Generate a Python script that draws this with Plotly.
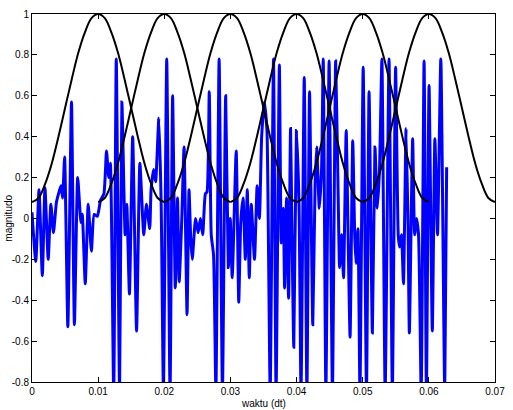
import plotly.graph_objects as go

# Blue signal
sig_t = [0.00000, 0.00057, 0.00106, 0.00156, 0.00196, 0.00245, 0.00285, 0.00324, 0.00370, 0.00418,
         0.00440, 0.00463, 0.00493, 0.00542, 0.00597, 0.00641, 0.00691, 0.00740, 0.00760, 0.00805,
         0.00850, 0.00898, 0.00940, 0.00988, 0.01037, 0.01087, 0.01126, 0.01161, 0.01185, 0.01235,
         0.01274, 0.01324, 0.01359, 0.01408, 0.01433, 0.01473, 0.01522, 0.01581, 0.01631, 0.01690,
         0.01730, 0.01780, 0.01800, 0.01839, 0.01869, 0.01918, 0.01953, 0.01987, 0.02037, 0.02087,
         0.02126, 0.02166, 0.02200, 0.02225, 0.02265, 0.02299, 0.02344, 0.02374, 0.02400, 0.02423,
         0.02473, 0.02512, 0.02547, 0.02581, 0.02621, 0.02646, 0.02680, 0.02710, 0.02745, 0.02780,
         0.02829, 0.02879, 0.02928, 0.02968, 0.02997, 0.03027, 0.03087, 0.03126, 0.03156, 0.03191,
         0.03225, 0.03255, 0.03285, 0.03315, 0.03364, 0.03404, 0.03438, 0.03472, 0.03512, 0.03552,
         0.03571, 0.03601, 0.03651, 0.03690, 0.03740, 0.03769, 0.03799, 0.03819, 0.03849, 0.03879,
         0.03909, 0.03928, 0.03958, 0.03998, 0.04037, 0.04067, 0.04116, 0.04156, 0.04196, 0.04245,
         0.04280, 0.04304, 0.04344, 0.04378, 0.04403, 0.04443, 0.04492, 0.04542, 0.04591, 0.04631,
         0.04650, 0.04680, 0.04710, 0.04750, 0.04779, 0.04809, 0.04849, 0.04879, 0.04898, 0.04928,
         0.04958, 0.05007, 0.05057, 0.05096, 0.05146, 0.05185, 0.05220, 0.05254, 0.05290, 0.05339,
         0.05398, 0.05448, 0.05497, 0.05537, 0.05557, 0.05586, 0.05616, 0.05656, 0.05686, 0.05705,
         0.05755, 0.05785, 0.05814, 0.05844, 0.05884, 0.05928, 0.05963, 0.06003, 0.06052, 0.06091,
         0.06131, 0.06181, 0.06240, 0.06269]
sig_v = [0.03, -0.21, 0.14, -0.28, 0.15, -0.20, 0.07, -0.07, 0.08, 0.14,
         0.16, 0.10, 0.30, -0.53, 0.57, -0.52, 0.20, -0.02, 0.02, -0.32,
         0.07, -0.16, 0.02, 0.01, 0.09, 0.12, 0.33, 0.20, 0.27, -0.85,
         0.78, -0.85, 0.57, -0.08, 0.07, -0.37, 0.40, -0.55, 0.27, -0.08,
         0.07, -0.05, 0.14, 0.24, 0.18, 0.49, 0.07, -0.85, 0.78, -0.85,
         0.60, -0.34, 0.10, -0.31, 0.00, 0.35, -0.47, 0.14, -0.10, -0.20,
         0.00, -0.07, 0.00, -0.08, 0.12, 0.13, 0.62, -0.08, -0.18, -0.85,
         0.78, -0.85, 0.60, -0.24, 0.00, -0.29, 0.33, -0.41, -0.02, 0.10,
         -0.20, 0.14, -0.29, 0.07, -0.20, 0.16, 0.00, 0.40, 0.57, 0.43,
         0.00, -0.85, 0.78, -0.85, 0.75, -0.12, 0.05, -0.34, 0.10, -0.39,
         0.44, 0.00, -0.63, 0.43, 0.07, -0.85, 0.69, -0.85, 0.62, -0.52,
         0.17, 0.35, 0.05, 0.24, 0.78, -0.85, 0.77, -0.85, 0.77, 0.07,
         -0.24, -0.08, -0.29, 0.43, -0.08, -0.58, 0.38, -0.08, -0.22, -0.05,
         -0.85, 0.74, -0.85, 0.62, -0.56, 0.35, 0.05, 0.24, 0.78, -0.85,
         0.78, -0.85, 0.74, -0.08, -0.14, -0.08, -0.32, 0.44, -0.05, -0.56,
         0.39, -0.08, 0.00, -0.08, -0.85, 0.77, -0.85, 0.65, -0.55, 0.39,
         -0.08, 0.78, -0.85, 0.25]

# Window shape (black curves)
win_offset = [-0.010, -0.009, -0.008, -0.007, -0.006, -0.005, -0.004, -0.003, -0.002, -0.001, 0.000,
              0.001, 0.002, 0.003, 0.004, 0.005, 0.006, 0.007, 0.008, 0.009, 0.010]
win_value = [0.08, 0.10, 0.17, 0.27, 0.40, 0.54, 0.68, 0.81, 0.91, 0.98, 1.00,
             0.98, 0.91, 0.81, 0.68, 0.54, 0.40, 0.27, 0.17, 0.10, 0.08]
win_centers = [0.01, 0.02, 0.03, 0.04, 0.05, 0.06]

x_ticks = [0, 0.01, 0.02, 0.03, 0.04, 0.05, 0.06, 0.07]
x_tick_labels = ["0", "0.01", "0.02", "0.03", "0.04", "0.05", "0.06", "0.07"]
y_ticks = [-0.8, -0.6, -0.4, -0.2, 0, 0.2, 0.4, 0.6, 0.8, 1]
y_tick_labels = ["-0.8", "-0.6", "-0.4", "-0.2", "0", "0.2", "0.4", "0.6", "0.8", "1"]

fig = go.Figure()
fig.add_trace(go.Scatter(x=sig_t, y=sig_v, mode="lines",
                         line=dict(color="#0000FF", width=3, shape="spline", smoothing=0.5),
                         showlegend=False))
for c in win_centers:
    fig.add_trace(go.Scatter(x=[c + o for o in win_offset], y=win_value, mode="lines",
                             line=dict(color="black", width=2, shape="spline", smoothing=1),
                             showlegend=False))

font = dict(family="Liberation Sans, Arial, sans-serif", size=10, color="black")
axis_common = dict(showgrid=False, zeroline=False, showline=True, linecolor="black", linewidth=1,
                   mirror="ticks", ticks="inside", ticklen=5, tickcolor="black", tickfont=font,
                   ticklabeloverflow="allow")

fig.update_layout(
    width=513, height=410,
    margin=dict(l=31.5, r=10, t=8, b=28),
    paper_bgcolor="white", plot_bgcolor="white",
    xaxis=dict(range=[0, 0.07], tickvals=x_ticks, ticktext=x_tick_labels, **axis_common),
    yaxis=dict(range=[-0.8, 1], tickvals=y_ticks, ticktext=y_tick_labels, **axis_common),
    annotations=[
        dict(text="waktu (dt)", xref="paper", yref="paper", x=0.5, y=-0.0588,
             xanchor="center", yanchor="middle", showarrow=False, font=font),
        dict(text="magnitudo", xref="paper", yref="paper", x=-0.0498, y=0.4465,
             xanchor="center", yanchor="middle", textangle=-90, showarrow=False, font=font),
    ],
)

fig.write_html("out.html")
